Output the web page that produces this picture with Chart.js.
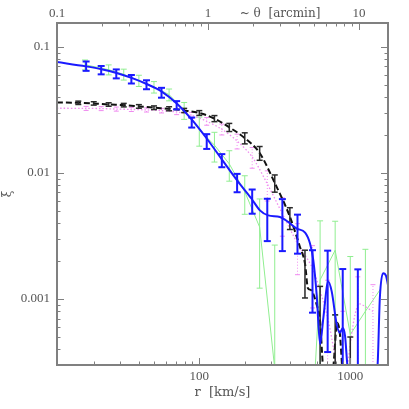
<!DOCTYPE html>
<html>
<head>
<meta charset="utf-8">
<script src="https://cdn.jsdelivr.net/npm/chart.js@4.4.0/dist/chart.umd.min.js"></script>
<style>
  html, body { margin: 0; padding: 0; background: #fff; }
</style>
</head>
<body>
<canvas id="xi-chart" width="409" height="409"></canvas>
<script>
// separations r [km/s] of the two sets of bins
const rBinsA = [17.8, 22.4, 28.2, 35.5, 44.7, 56.2, 70.8, 89.1, 112, 141, 178, 224, 282, 355, 447, 562, 708, 891, 1122];
const rBinsB = [15.8, 20.0, 25.1, 31.6, 39.8, 50.1, 63.1, 79.4, 100, 126, 158, 200, 251, 316, 398, 501, 631, 794, 1000];

// blue sample (points + errors)
const blueXi  = [0.0705, 0.0655, 0.0612, 0.0555, 0.0502, 0.0434, 0.0345, 0.0252, 0.0179, 0.0126, 0.00843, 0.00607, 0.00456, 0.0043, 0.00348, 0.00161, 0.0014, 0.0008, 0.0008];
const blueErr = [0.006, 0.005, 0.005, 0.0043, 0.0041, 0.0039, 0.0026, 0.0023, 0.0024, 0.0015, 0.0014, 0.00132, 0.00168, 0.0019, 0.00119, 0.00083, 0.00102, 0.00093, 0.00092];

// black sample
const blackXi  = [0.0360, 0.0356, 0.0349, 0.0345, 0.0337, 0.0329, 0.0323, 0.0313, 0.0299, 0.0270, 0.0230, 0.0189, 0.0144, 0.00834, 0.00443, 0.00173, 0.0004, 0.0002, 0.0001];
const blackErr = [0.0011, 0.0011, 0.0011, 0.0011, 0.0011, 0.0011, 0.0012, 0.0012, 0.0013, 0.0015, 0.0017, 0.0019, 0.0018, 0.0013, 0.00087, 0.00071, 0.00086, 0.00055, 0.0004];

// green sample
const greenR   = [17.5, 25.1, 31.6, 39.8, 50.1, 63.1, 79.4, 100, 126, 158, 200, 251, 316, 398, 501, 631, 794, 1000, 1259, 1585];
const greenXi  = [0.0721, 0.0659, 0.0605, 0.0540, 0.0480, 0.0418, 0.0314, 0.0220, 0.0166, 0.0118, 0.0071, 0.00372, 0.00028, 0.00001, 0.00001, 0.00142, 0.00244, 0.000524, 0.0008, 0.0012];
const greenErr = [0.0065, 0.006, 0.006, 0.0055, 0.005, 0.0045, 0.0048, 0.0057, 0.0044, 0.0032, 0.0024, 0.0025, 0.0024, null, null, 0.00275, 0.0017, 0.00165, 0.00168, null];

// magenta sample
const magentaR   = [11.4, 17.8, 22.4, 28.2, 35.5, 44.7, 56.2, 70.8, 89.1, 112, 141, 178, 224, 282, 355, 447, 562, 708, 891, 1122, 1413];
const magentaXi  = [0.0326, 0.0325, 0.0324, 0.0321, 0.0319, 0.0316, 0.0312, 0.0304, 0.0286, 0.0257, 0.0222, 0.0179, 0.0134, 0.00819, 0.00475, 0.00276, 0.00175, 0.00071, 0.0002, 0.0009, 0.0008];
const magentaErr = [null, 0.0012, 0.0012, 0.0012, 0.0012, 0.0012, 0.0013, 0.0014, 0.0016, 0.0018, 0.0022, 0.0024, 0.0025, 0.0022, 0.0016, 0.0012, 0.0009, 0.0007, 0.0006, 0.0006, 0.0005];

// smooth curves
const blueFitR  = [11.4, 17.8, 22.5, 28.3, 35.6, 44.8, 56.4, 70.9, 89, 113, 141, 179, 222, 252, 286, 342, 388, 442, 502, 541, 569, 599, 631, 663, 714, 753, 813, 852, 893, 923, 959, 1190, 1513, 1569, 1648, 1727, 1777];
const blueFitXi = [0.0758, 0.0700, 0.0665, 0.0621, 0.0567, 0.0507, 0.0442, 0.0356, 0.0266, 0.0185, 0.0128, 0.00865, 0.00624, 0.00505, 0.00461, 0.00448, 0.00409, 0.00362, 0.00337, 0.00276, 0.00203, 0.00108, 0.00044, 0.00071, 0.00138, 0.00115, 0.00063, 0.00054, 0.00059, 0.00051, 0.00029, 0.00012, 0.00029, 0.00102, 0.0016, 0.00152, 0.00129];
const blackFitR  = [11.4, 15.8, 20.0, 25.1, 31.6, 39.8, 50.1, 63.1, 79.4, 100, 126, 158, 200, 251, 316, 398, 463, 502, 524, 549, 599, 631, 659, 721, 781, 817, 852, 893, 1000, 1777];
const blackFitXi = [0.0362, 0.0360, 0.0356, 0.0349, 0.0345, 0.0337, 0.0329, 0.0323, 0.0313, 0.0299, 0.0270, 0.0230, 0.0189, 0.0144, 0.00834, 0.0045, 0.00261, 0.00189, 0.00122, 0.00118, 0.00090, 0.00067, 0.00029, 0.00012, 0.00034, 0.00065, 0.00054, 0.00024, 0.00007, 0.00007];

// axis ticks
const rTicks = [100, 1000];
const rTickLabels = ['100', '1000'];
const thetaTicks = [0.1, 1, 3.0, 10];
const thetaTickLabels = ['0.1', '1', '~ θ  [arcmin]', '10'];
const xiTicks = [0.1, 0.01, 0.001];
const xiTickLabels = ['0.1', '0.01', '0.001'];

const xiMin = 0.000313, xiMax = 0.1545;
const rMin = 11.42, rMax = 1777;
const thetaMin = 0.1, thetaMax = 15.56;

const pairs = (xs, ys) => xs.map((x, i) => ({ x: x, y: ys[i] }));

// vertical error segments separated by gaps
function errorBars(xs, ys, es) {
  const pts = [];
  xs.forEach((x, i) => {
    if (es[i] == null) return;
    pts.push({ x: x, y: Math.max(ys[i] - es[i], 1e-7) });
    pts.push({ x: x, y: ys[i] + es[i] });
    pts.push({ x: x, y: null });
  });
  return pts;
}

function errSet(data, color, width, cap, dash) {
  return {
    data: data, borderColor: color, borderWidth: width, borderDash: dash || [],
    pointStyle: 'line', pointRadius: cap, pointBorderWidth: width,
    pointBorderColor: color, pointBackgroundColor: color, spanGaps: false, clip: 0
  };
}

const gray = '#808080';
const numFont = { family: 'Liberation Serif', size: 13 };
const txtFont = { family: 'DejaVu Serif', size: 13 };

// inward tick marks and the frame
const frameTicks = {
  id: 'frameTicks',
  afterDatasetsDraw(chart) {
    const { ctx, chartArea: a, scales } = chart;
    const minors = (decades) => decades.flatMap(d => [2, 3, 4, 5, 6, 7, 8, 9].map(k => k * d));
    ctx.save();
    ctx.strokeStyle = gray;
    ctx.lineWidth = 1;
    function hTicks(scale, vals, len, atTop) {
      vals.forEach(v => {
        if (v <= scale.min || v >= scale.max) return;
        const p = Math.round(scale.getPixelForValue(v)) + 0.5;
        ctx.beginPath();
        if (atTop) { ctx.moveTo(p, a.top); ctx.lineTo(p, a.top + len); }
        else { ctx.moveTo(p, a.bottom); ctx.lineTo(p, a.bottom - len); }
        ctx.stroke();
      });
    }
    function vTicks(scale, vals, len) {
      vals.forEach(v => {
        if (v <= scale.min || v >= scale.max) return;
        const p = Math.round(scale.getPixelForValue(v)) + 0.5;
        ctx.beginPath();
        ctx.moveTo(a.left, p); ctx.lineTo(a.left + len, p);
        ctx.moveTo(a.right, p); ctx.lineTo(a.right - len, p);
        ctx.stroke();
      });
    }
    hTicks(scales.x, rTicks, 7, false);
    hTicks(scales.x, minors([10, 100, 1000]), 3.5, false);
    hTicks(scales.xTop, [1, 10], 7, true);
    hTicks(scales.xTop, minors([0.1, 1, 10]), 3.5, true);
    vTicks(scales.y, xiTicks, 7);
    vTicks(scales.y, minors([0.0001, 0.001, 0.01]), 3.5);
    ctx.lineWidth = 2;
    ctx.strokeRect(a.left, a.top, a.right - a.left, a.bottom - a.top);
    ctx.restore();
  }
};

const ctx = document.getElementById('xi-chart').getContext('2d');
new Chart(ctx, {
  type: 'line',
  data: {
    datasets: [
      errSet(errorBars(rBinsA, blueXi, blueErr), '#1a1aff', 2, 3.5),
      { data: pairs(blueFitR, blueFitXi), borderColor: '#1a1aff', borderWidth: 2, pointRadius: 0, cubicInterpolationMode: 'monotone', clip: 0 },
      errSet(errorBars(rBinsB, blackXi, blackErr), '#2a2a2a', 1.5, 3),
      { data: pairs(blackFitR, blackFitXi), borderColor: '#111', borderWidth: 2, borderDash: [6, 3], pointRadius: 0, cubicInterpolationMode: 'monotone', clip: 0 },
      errSet(errorBars(magentaR, magentaXi, magentaErr), '#f08cf0', 1, 2.5, [1, 2]),
      { data: pairs(magentaR, magentaXi), borderColor: '#f08cf0', borderWidth: 1.3, borderDash: [1.5, 2], pointRadius: 0, tension: 0.3, clip: 0 },
      errSet(errorBars(greenR, greenXi, greenErr), '#90ee90', 1, 3),
      { data: pairs(greenR, greenXi), borderColor: '#90ee90', borderWidth: 1, pointRadius: 0, tension: 0, clip: 0 }
    ]
  },
  options: {
    responsive: false,
    animation: false,
    events: [],
    layout: { padding: 0 },
    plugins: { legend: { display: false }, tooltip: { enabled: false } },
    scales: {
      x: {
        type: 'logarithmic', position: 'bottom', min: rMin, max: rMax,
        afterBuildTicks: (s) => { s.ticks = rTicks.map(v => ({ value: v })); },
        afterFit: (s) => { s.height = 44; },
        grid: { display: false, drawTicks: false },
        border: { display: false },
        ticks: { autoSkip: false, maxRotation: 0, padding: 4, color: '#555', font: numFont,
                 callback: (v, i) => rTickLabels[i] },
        title: { display: true, text: 'r  [km/s]', color: '#555', font: txtFont, padding: { top: 0, bottom: 9 } }
      },
      xTop: {
        type: 'logarithmic', position: 'top', min: thetaMin, max: thetaMax,
        afterBuildTicks: (s) => { s.ticks = thetaTicks.map(v => ({ value: v })); },
        afterFit: (s) => { s.height = 23; },
        grid: { display: false, drawTicks: false },
        border: { display: false },
        ticks: { autoSkip: false, maxRotation: 0, padding: 2, color: '#555',
                 font: (c) => c.index === 2 ? { family: 'DejaVu Serif', size: 12 } : numFont,
                 callback: (v, i) => thetaTickLabels[i] }
      },
      y: {
        type: 'logarithmic', position: 'left', min: xiMin, max: xiMax,
        afterBuildTicks: (s) => { s.ticks = xiTicks.map(v => ({ value: v })); },
        afterFit: (s) => { s.width = 57; },
        grid: { display: false, drawTicks: false },
        border: { display: false },
        ticks: { autoSkip: false, padding: 7, color: '#555', font: numFont,
                 callback: (v, i) => xiTickLabels[i] },
        title: { display: true, text: 'ξ', color: '#555', font: { family: 'DejaVu Serif', size: 12 }, padding: { top: 1, bottom: 0 } }
      },
      yRight: {
        type: 'logarithmic', position: 'right', min: xiMin, max: xiMax,
        afterFit: (s) => { s.width = 21; },
        grid: { display: false, drawTicks: false },
        border: { display: false },
        ticks: { display: false }
      }
    }
  },
  plugins: [frameTicks]
});
</script>
</body>
</html>
